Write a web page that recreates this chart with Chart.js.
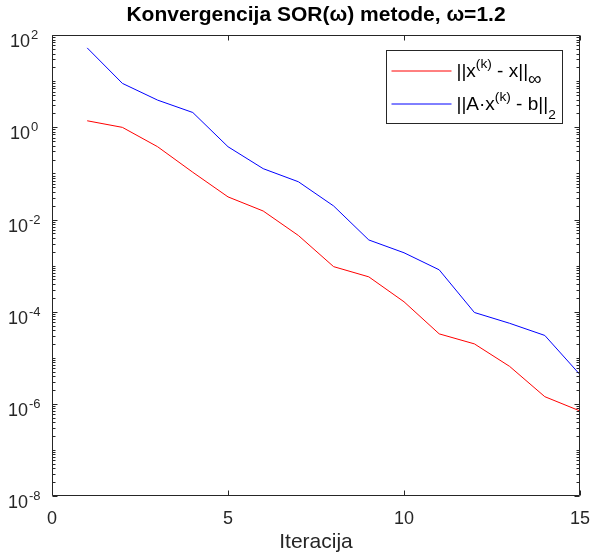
<!DOCTYPE html>
<html>
<head>
<meta charset="utf-8">
<script src="https://cdn.jsdelivr.net/npm/chart.js@4.4.1/dist/chart.umd.min.js"></script>
<style>
  body { margin: 0; background: #fff; }
  canvas { display: block; }
</style>
</head>
<body>
<canvas id="chartSor" width="592" height="555"></canvas>
<script>
// data
const iterations = [1, 2, 3, 4, 5, 6, 7, 8, 9, 10, 11, 12, 13, 14, 15];
const errInf = [1.39, 1.0, 0.38, 0.106, 0.031, 0.0153, 0.0045, 9.5e-4, 5.7e-4, 1.64e-4, 3.3e-5, 2.0e-5, 6.5e-6, 1.43e-6, 7.0e-7];
const residual2 = [53, 9.0, 3.9, 2.1, 0.38, 0.127, 0.066, 0.0197, 0.0036, 0.0019, 8.1e-4, 9.6e-5, 5.6e-5, 3.05e-5, 4.3e-6];
const xTicks = [0, 5, 10, 15];
const yExponents = [2, 0, -2, -4, -6, -8];
const chartTitle = 'Konvergencija SOR(\u03c9) metode, \u03c9=1.2';
const xTitle = 'Iteracija';
// legend labels, split into normal / superscript / subscript parts
const legendErr = [['||x', ''], ['(k)', 'sup'], [' - x||', ''], ['\u221e', 'subBig']];
const legendRes = [['||A\u00b7x', ''], ['(k)', 'sup'], [' - b||', ''], ['2', 'sub']];

const AXIS_COLOR = '#262626';
const FONT = '"Liberation Sans", Arial, Helvetica, sans-serif';
const RED = '#ff0000';
const BLUE = '#0000ff';

function toPoints(ys) {
    return iterations.map((x, i) => ({ x: x, y: ys[i] }));
}

function drawRich(ctx, parts, x, y, size) {
    for (const [txt, kind] of parts) {
        let s = size, dy = 0;
        if (kind === 'sup') { s = size * 0.72; dy = -9; }
        if (kind === 'sub') { s = size * 0.72; dy = 9; }
        if (kind === 'subBig') { s = size; dy = 8; }
        ctx.font = s + 'px ' + FONT;
        ctx.fillText(txt, x, y + dy);
        x += ctx.measureText(txt).width;
    }
}

// MATLAB style box, inward ticks, 10^n labels and legend
const matlabAxes = {
    id: 'matlabAxes',
    afterDraw(chart) {
        const { ctx, chartArea: a, scales } = chart;
        const xs = scales.x, ys = scales.y;
        const L = Math.round(a.left) + 0.5, R = Math.round(a.right) - 0.5;
        const T = Math.round(a.top) + 0.5, B = Math.round(a.bottom) - 0.5;
        ctx.save();
        ctx.strokeStyle = AXIS_COLOR;
        ctx.lineWidth = 1;
        ctx.beginPath();
        ctx.rect(L, T, R - L, B - T);
        // x ticks
        xTicks.forEach(v => {
            const px = Math.round(xs.getPixelForValue(v)) + 0.5;
            ctx.moveTo(px, B); ctx.lineTo(px, B - 5);
            ctx.moveTo(px, T); ctx.lineTo(px, T + 5);
        });
        // y ticks: decades and 2..9 minors
        for (let e = -8; e <= 2; e++) {
            for (let m = 1; m <= 9; m++) {
                if (e === 2 && m > 1) break;
                const py = Math.round(ys.getPixelForValue(m * Math.pow(10, e))) + 0.5;
                const len = (m === 1 && e % 2 === 0) ? 5 : 3;
                ctx.moveTo(L, py); ctx.lineTo(L + len, py);
                ctx.moveTo(R, py); ctx.lineTo(R - len, py);
            }
        }
        ctx.stroke();

        // y labels 10^n
        ctx.fillStyle = AXIS_COLOR;
        ctx.textBaseline = 'alphabetic';
        ctx.textAlign = 'left';
        yExponents.forEach(e => {
            const py = ys.getPixelForValue(Math.pow(10, e));
            const x0 = e < 0 ? 8 : 10;
            ctx.font = '18px ' + FONT;
            ctx.fillText('10', x0, py + 12);
            const w = ctx.measureText('10').width;
            ctx.font = '13px ' + FONT;
            ctx.fillText(e < 0 ? '-' + (-e) : String(e), x0 + w + 1, py + 4);
        });

        // legend
        const lx = Math.round(a.right) - 193.5, ly = Math.round(a.top) + 15.5;
        const lw = 176, lh = 73;
        ctx.fillStyle = '#fff';
        ctx.fillRect(lx, ly, lw, lh);
        ctx.strokeStyle = AXIS_COLOR;
        ctx.strokeRect(lx, ly, lw, lh);
        [[RED, legendErr, 20], [BLUE, legendRes, 53]].forEach(([col, parts, dy]) => {
            ctx.strokeStyle = col;
            ctx.beginPath();
            ctx.moveTo(lx + 5, ly + dy + 0.5); ctx.lineTo(lx + 65, ly + dy + 0.5);
            ctx.stroke();
            ctx.fillStyle = '#000';
            drawRich(ctx, parts, lx + 70, ly + dy + 6, 19);
        });
        ctx.restore();
    }
};

const config = {
    type: 'line',
    data: {
        datasets: [{
            label: '||x(k) - x||inf',
            data: toPoints(errInf),
            borderColor: RED,
            backgroundColor: RED,
            borderWidth: 1,
            pointRadius: 0,
            tension: 0,
            fill: false
        }, {
            label: '||A x(k) - b||2',
            data: toPoints(residual2),
            borderColor: BLUE,
            backgroundColor: BLUE,
            borderWidth: 1,
            pointRadius: 0,
            tension: 0,
            fill: false
        }]
    },
    options: {
        responsive: false,
        animation: false,
        devicePixelRatio: 1,
        layout: { padding: { left: 0, right: 12, top: 0, bottom: 0 } },
        plugins: {
            legend: { display: false },
            tooltip: { enabled: false },
            title: {
                display: true,
                text: chartTitle,
                fullSize: false,
                color: '#000',
                font: { family: FONT, size: 21, weight: 'bold' },
                padding: { top: 3, bottom: 7 }
            }
        },
        scales: {
            x: {
                type: 'linear',
                min: 0,
                max: 15,
                grid: { display: false, drawTicks: false },
                border: { display: false },
                ticks: {
                    stepSize: 5,
                    color: AXIS_COLOR,
                    padding: 12,
                    font: { family: FONT, size: 18 }
                },
                title: {
                    display: true,
                    text: xTitle,
                    color: AXIS_COLOR,
                    font: { family: FONT, size: 21 },
                    padding: { top: 0, bottom: 0 }
                },
                afterFit(scale) {
                    scale.height = 59;
                    scale.paddingLeft = 0;
                    scale.paddingRight = 0;
                }
            },
            y: {
                type: 'logarithmic',
                min: 1e-8,
                max: 100,
                grid: { display: false, drawTicks: false },
                border: { display: false },
                ticks: { display: false },
                afterFit(scale) { scale.width = 52; }
            }
        }
    },
    plugins: [matlabAxes]
};

const chartSor = new Chart(document.getElementById('chartSor'), config);
</script>
</body>
</html>
